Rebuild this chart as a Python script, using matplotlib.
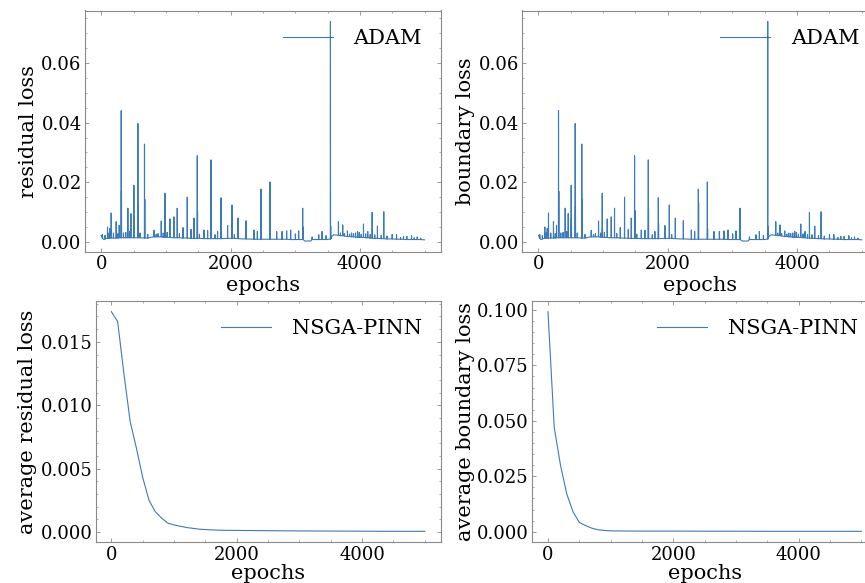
import numpy as np
import matplotlib
matplotlib.use("Agg")
import matplotlib.pyplot as plt

# ---------------- data ----------------
# ADAM: baseline knots
base_epoch = [0, 20, 40, 60, 80, 150, 300, 500, 700, 760, 850, 950, 1100, 1400, 1700,
              2000, 2200, 2500, 2800, 3100, 3150, 3240, 3260, 3500, 3560, 3600, 3700,
              3800, 4000, 4200, 4400, 4700, 5000]
base_loss = [0.0022, 0.0015, 0.0008, 0.0010, 0.0012, 0.0013, 0.0014, 0.0014, 0.0013, 0.0015,
             0.0018, 0.0016, 0.0014, 0.0012, 0.0011, 0.0012, 0.0010, 0.0009, 0.0009, 0.0008,
             0.0003, 0.0003, 0.0008, 0.0008, 0.0018, 0.0024, 0.0022, 0.0018, 0.0015, 0.0012,
             0.0010, 0.0008, 0.0007]

# ADAM: main spikes (epoch, foot level, peak, inner secondary peak; 0 = none)
spike_epoch = [98, 155, 232, 279, 310, 413, 460, 506, 568, 670,
               816, 929, 986, 1063, 1125, 1176, 1265, 1331, 1389, 1435,
               1486, 1590, 1646, 1698, 1800, 1853, 1955, 2023, 2116, 2240,
               2364, 2415, 2472, 2611, 2714, 2797, 2868, 2930, 3003, 3054,
               3116, 3262, 3364, 3416, 3478, 3545, 3669, 3735, 3808, 3870,
               3932, 3963, 4056, 4122, 4190, 4272, 4370, 4500, 4567, 4675,
               4726, 4799, 4887]
spike_foot = [0.0012, 0.0013, 0.0013, 0.0014, 0.0014, 0.0014, 0.0014, 0.0014, 0.0014, 0.0013,
              0.0017, 0.0017, 0.0016, 0.0015, 0.0014, 0.0014, 0.0013, 0.0013, 0.0012, 0.0012,
              0.0012, 0.0011, 0.0011, 0.0011, 0.0011, 0.0011, 0.0012, 0.0012, 0.0011, 0.0010,
              0.0009, 0.0009, 0.0009, 0.0009, 0.0009, 0.0009, 0.0009, 0.0008, 0.0008, 0.0008,
              0.0008, 0.0008, 0.0008, 0.0008, 0.0008, 0.0010, 0.0022, 0.0021, 0.0018, 0.0017,
              0.0016, 0.0016, 0.0015, 0.0014, 0.0013, 0.0012, 0.0011, 0.0010, 0.0009, 0.0009,
              0.0008, 0.0008, 0.0008]
spike_peak = [0.0050, 0.0097, 0.0068, 0.0056, 0.0440, 0.0113, 0.0095, 0.0190, 0.0397, 0.0328,
              0.0039, 0.0070, 0.0163, 0.0077, 0.0084, 0.0113, 0.0048, 0.0150, 0.0042, 0.0080,
              0.0289, 0.0040, 0.0039, 0.0275, 0.0035, 0.0148, 0.0055, 0.0124, 0.0080, 0.0071,
              0.0040, 0.0035, 0.0177, 0.0201, 0.0035, 0.0035, 0.0037, 0.0040, 0.0027, 0.0037,
              0.0113, 0.0017, 0.0024, 0.0035, 0.0021, 0.0739, 0.0068, 0.0057, 0.0037, 0.0030,
              0.0030, 0.0035, 0.0060, 0.0035, 0.0099, 0.0053, 0.0101, 0.0025, 0.0025, 0.0019,
              0.0019, 0.0021, 0.0017]
spike_inner = [0, 0, 0, 0, 0.0170, 0, 0, 0.0080, 0.0120, 0.0143,
               0, 0, 0.0045, 0, 0, 0, 0, 0, 0, 0,
               0.0105, 0, 0, 0.0112, 0, 0.0062, 0, 0, 0, 0,
               0, 0, 0.0132, 0.0045, 0, 0, 0, 0, 0, 0,
               0.0050, 0, 0, 0, 0, 0.0052, 0, 0, 0, 0,
               0, 0, 0, 0, 0, 0, 0, 0, 0, 0,
               0, 0, 0]

# ADAM: small noise spikes in the baseline
minor_epoch = [20, 60, 120, 135, 190, 260, 345, 380, 440, 600, 720, 850, 880, 960, 1020,
               1210, 1520, 1760, 2060, 3700, 3760, 3840, 3900, 3990, 4020, 4090, 4160,
               4230, 4330, 4420, 4630, 4840, 4940]
minor_foot = [0.0012, 0.0010, 0.0012, 0.0013, 0.0013, 0.0013, 0.0014, 0.0014, 0.0014, 0.0014,
              0.0013, 0.0017, 0.0017, 0.0016, 0.0015, 0.0014, 0.0012, 0.0011, 0.0012, 0.0021,
              0.0020, 0.0018, 0.0017, 0.0015, 0.0015, 0.0014, 0.0013, 0.0012, 0.0011, 0.0010,
              0.0009, 0.0008, 0.0008]
minor_peak = [0.0025, 0.0022, 0.0030, 0.0045, 0.0030, 0.0028, 0.0030, 0.0032, 0.0035, 0.0030,
              0.0025, 0.0025, 0.0028, 0.0030, 0.0032, 0.0028, 0.0026, 0.0024, 0.0025, 0.0030,
              0.0028, 0.0026, 0.0028, 0.0032, 0.0025, 0.0027, 0.0025, 0.0024, 0.0022, 0.0020,
              0.0015, 0.0014, 0.0013]

# NSGA-PINN averages
nsga_epoch = [0, 100, 200, 300, 400, 500, 600, 700, 800, 900, 1000, 1200, 1400, 1600,
              1800, 2000, 2500, 3000, 3500, 4000, 4500, 5000]
nsga_residual = [0.01738, 0.0166, 0.0125, 0.0087, 0.0066, 0.0043, 0.0025, 0.0016, 0.0011,
                 0.0007, 0.00055, 0.00035, 0.00022, 0.00016, 0.00013, 0.00012, 0.00010,
                 0.00008, 0.00007, 0.00006, 0.00005, 0.00005]
nsga_boundary = [0.0992, 0.0470, 0.0300, 0.0170, 0.0090, 0.0042, 0.0028, 0.0016, 0.0009,
                 0.0006, 0.0004, 0.00035, 0.0003, 0.0003, 0.0003, 0.0003, 0.00025, 0.00025,
                 0.0002, 0.0002, 0.0002, 0.0002]

# ---------------- build ADAM polyline from the data ----------------
pts = list(zip(base_epoch, base_loss))
for e, f, p, q in zip(spike_epoch, spike_foot, spike_peak, spike_inner):
    pts += [(e - 2, f), (e, p), (e + 2, f)]
    if q > 0:
        pts += [(e + 4, q), (e + 6, f)]
for e, f, p in zip(minor_epoch, minor_foot, minor_peak):
    pts += [(e - 2, f), (e, p), (e + 2, f)]
pts.sort(key=lambda t: t[0])
adam_epoch = np.array([t[0] for t in pts])
adam_loss = np.array([t[1] for t in pts])

# ---------------- style ----------------
edge = "#8a8a8a"
plt.rcParams.update({
    "font.family": "DejaVu Serif",
    "font.size": 13,
    "axes.linewidth": 0.8,
    "axes.edgecolor": edge,
    "xtick.color": edge, "ytick.color": edge,
    "xtick.labelcolor": "black", "ytick.labelcolor": "black",
    "xtick.labelsize": 13, "ytick.labelsize": 13,
    "xtick.direction": "in", "ytick.direction": "in",
    "xtick.top": True, "ytick.right": True,
    "xtick.minor.visible": True, "ytick.minor.visible": True,
    "xtick.major.size": 3, "ytick.major.size": 3,
    "xtick.minor.size": 1.5, "ytick.minor.size": 1.5,
    "xtick.major.width": 0.6, "ytick.major.width": 0.6,
    "xtick.minor.width": 0.5, "ytick.minor.width": 0.5,
    "xtick.major.pad": 2.5, "ytick.major.pad": 2.4,
    "legend.frameon": False,
})

W, H = 865, 583
fig = plt.figure(figsize=(W / 100, H / 100), dpi=100)

def add_ax(l, r, t, b):
    return fig.add_axes([l / W, 1 - b / H, (r - l) / W, (b - t) / H])

ax1 = add_ax(85, 440.7, 10.5, 252)
ax2 = add_ax(522.3, 878, 10.5, 252)
ax3 = add_ax(95.7, 440.5, 300.7, 542.3)
ax4 = add_ax(532.3, 877, 300.7, 542.3)

color = "#1a64ad"
lw = 0.8
ax1.plot(adam_epoch, adam_loss, color=color, lw=lw, alpha=0.85, label="ADAM")
ax2.plot(adam_epoch, adam_loss, color=color, lw=lw, alpha=0.85, label="ADAM")
ax3.plot(nsga_epoch, nsga_residual, color=color, lw=lw, alpha=0.85, label="NSGA-PINN")
ax4.plot(nsga_epoch, nsga_boundary, color=color, lw=lw, alpha=0.85, label="NSGA-PINN")

lab_size = 15
ax1.set_ylabel("residual loss", fontsize=lab_size, labelpad=2.5)
ax2.set_ylabel("boundary loss", fontsize=lab_size, labelpad=2.5)
ax3.set_ylabel("average residual loss", fontsize=lab_size, labelpad=2.5)
ax4.set_ylabel("average boundary loss", fontsize=lab_size, labelpad=1.5)

for ax, lp in ((ax1, 1.5), (ax2, 1.5), (ax3, 0.3), (ax4, 0.3)):
    ax.set_xlabel("epochs", fontsize=lab_size, labelpad=lp)
    ax.set_xticks([0, 2000, 4000])
    ax.xaxis.set_minor_locator(matplotlib.ticker.MultipleLocator(500))
    ax.legend(loc="upper right", handlelength=2.4, handletextpad=1.0, fontsize=15)

ax1.set_yticks([0.00, 0.02, 0.04, 0.06])
ax2.set_yticks([0.00, 0.02, 0.04, 0.06])
ax1.yaxis.set_major_formatter(matplotlib.ticker.FormatStrFormatter("%.2f"))
ax2.yaxis.set_major_formatter(matplotlib.ticker.FormatStrFormatter("%.2f"))
ax3.set_yticks([0.0, 0.005, 0.010, 0.015])
ax3.yaxis.set_major_formatter(matplotlib.ticker.FormatStrFormatter("%.3f"))
ax4.set_yticks([0.0, 0.025, 0.050, 0.075, 0.100])
ax4.yaxis.set_major_formatter(matplotlib.ticker.FormatStrFormatter("%.3f"))

fig.savefig("out.png", dpi=100)
